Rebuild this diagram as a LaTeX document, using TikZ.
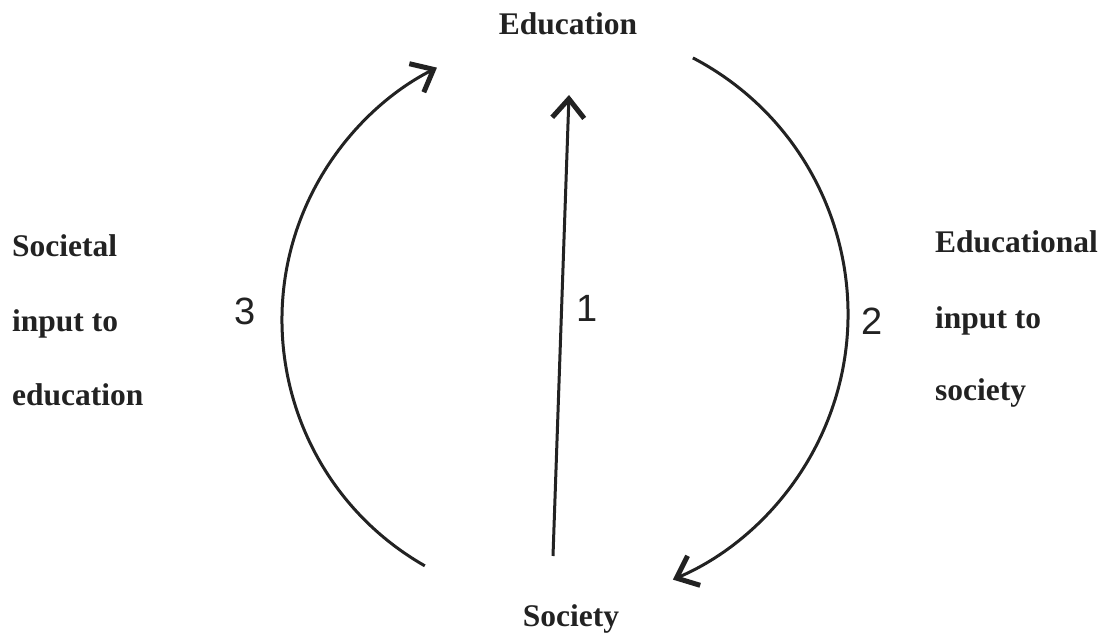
\documentclass[tikz,border=0pt]{standalone}
\usepackage{fontspec}
\setmainfont{Liberation Serif}
\newfontfamily\handfont{Liberation Sans}
\usetikzlibrary{calc,arrows.meta}
\definecolor{ink}{HTML}{222222}
\tikzset{
  label text/.style = {font=\bfseries\fontsize{31.5}{38}\selectfont, text=ink, inner sep=0pt},
  hand num/.style = {font=\handfont\fontsize{38}{42}\selectfont, text=ink, inner sep=0pt},
  hand arrow/.style = {draw, ink, line width=3pt, -{Straight Barb[length=19pt, width=32pt, line width=5pt]}}
}

\begin{document}
\begin{tikzpicture}[x=1pt, y=1pt]
\useasboundingbox(0,0)rectangle(1106,633);
% top and bottom
\node[label text, anchor=base](edu)at(568,598){Education};
\node[label text, anchor=base](soc)at(571,7){Society};
% left side
\node[label text, anchor=base west](sin1)at(12,376){Societal};
\node[label text, anchor=base west](sin2)at(12,302){input to};
\node[label text, anchor=base west](sin3)at(12,228){education};
% right side
\node[label text, anchor=base west](ein1)at(935,380){Educational};
\node[label text, anchor=base west](ein2)at(935,305){input to};
\node[label text, anchor=base west](ein3)at(935,233){society};
% centres of the arcs
\coordinate(cl)at(565,313);
\coordinate(cr)at(559,319);
% arrow 1
\coordinate(s1)at(553,77);
\coordinate(e1)at(569,538);
\path[hand arrow](s1)to(e1);
% arrow 3
\coordinate(s3)at($(cl)+(240.3:283pt)$);
\path[hand arrow](s3)arc[start angle=240.3, end angle=116.9, radius=283pt];
% arrow 2
\coordinate(s2)at($(cr)+(62.4:289pt)$);
\path[hand arrow](s2)arc[start angle=62.4, end angle=-66.8, radius=289pt];
% numbers
\node[hand num](n1)at(587,325){1};
\node[hand num](n3)at(245,322){3};
\node[hand num](n2)at(872,312){2};
\end{tikzpicture}
\end{document}
